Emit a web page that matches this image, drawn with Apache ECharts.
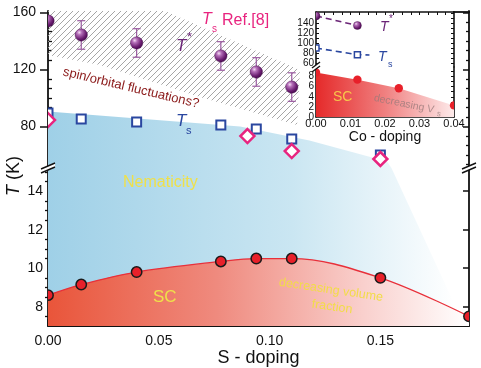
<!DOCTYPE html>
<html><head><meta charset="utf-8">
<script src="https://cdn.jsdelivr.net/npm/echarts@6/dist/echarts.min.js"></script>
<style>html,body{margin:0;padding:0;background:#fff}#c{width:481px;height:368px}</style>
</head><body><div id="c"></div>
<script>
// ---------- main plot data ----------
const tStarX = [0, 0.015, 0.04, 0.078, 0.094, 0.11];
const tStarY = [154, 144.2, 138.6, 129.5, 118.3, 107.7];
const tStarErr = [0, 10, 10, 10, 10, 10];
const tsX = [0, 0.015, 0.04, 0.078, 0.094, 0.11, 0.15];
const tsY = [89.5, 85.3, 83.2, 81.1, 78.3, 71.3, 60.1];
const tsRefX = [0, 0.09, 0.11, 0.15];
const tsRefY = [84.6, 73.4, 62.9, 57.3];
const scX = [0, 0.015, 0.04, 0.078, 0.094, 0.11, 0.15, 0.19];
const scY = [8.6, 9.15, 9.8, 10.35, 10.5, 10.5, 9.5, 7.5];
// shaded regions (x, T)
const nemUpper = [[0, 90.5], [0.0867, 80], [0.118, 70.3], [0.153, 55.6], [0.155, 51], [0, 51]];
const nemLower = [[0, 15.2], [0.155, 15.2], [0.188, 7], [0, 7]];
const hatchPoly = [[0, 161], [0.0528, 161], [0.1137, 119.7], [0.1124, 81.1], [0.0686, 100.7], [0.0235, 123.2], [0, 130.2]];
// tick labels
const xTicks = [0, 0.05, 0.10, 0.15];
const yTicksUpper = [80, 120, 160];
const yTicksLower = [8, 10, 12, 14];
// ---------- inset data ----------
const inTStarX = [0, 0.012];
const inTStarY = [154, 135];
const inTsX = [0, 0.012];
const inTsY = [90, 76.6];
const inTsLineX = [0, 0.012, 0.0155];
const inTsLineY = [90, 76.6, 76];
const inScX = [0, 0.012, 0.024, 0.04];
const inScY = [8.8, 7.4, 5.7, 2.3];
const inXTicks = [0, 0.01, 0.02, 0.03, 0.04];
const inYTicksUpper = [60, 80, 100, 120, 140];
const inYTicksLower = [0, 2, 4, 6, 8];

const FONT = 'Liberation Sans, Arial, sans-serif';
const K = '#111';
const PURPLE = '#6b2577', BLUE = '#2a47a0', PINK = '#e8247f', YELLOW = '#efe04a';

// minor tick positions
const xMinor = []; for (let i = 1; i * 0.05 / 6 <= 0.19; i++) if (i % 6) xMinor.push(i * 0.05 / 6);
const upMinor = []; for (let k = 1; 160 - k * 40 / 6 >= 51; k++) if (k % 6) upMinor.push(160 - k * 40 / 6);
const loMinor = []; for (let v = 7.5; v <= 15.01; v += 0.5) if (v % 2) loMinor.push(v);
const inXMinor = []; for (let i = 1; i < 16; i++) inXMinor.push(i * 0.0025);
const inUpMinor = []; for (let v = 60; v <= 160; v += 10) inUpMinor.push(v);
const inLoMinor = []; for (let v = 1; v <= 9; v++) inLoMinor.push(v);

function axis(o) {
  return Object.assign({
    type: 'value', splitLine: {show: false},
    axisLine: {show: false, lineStyle: {color: K, width: 1.8}},
    axisTick: {show: false}, axisLabel: {show: false}
  }, o);
}
function ticks(vals, len, inside, w) {
  return {show: true, inside: inside, length: len, customValues: vals, lineStyle: {color: K, width: w || 1.3}};
}
function labels(vals, size, margin, fmt) {
  return {show: true, customValues: vals, fontSize: size, margin: margin, color: K, fontFamily: FONT, formatter: fmt};
}
const line = w => ({show: true, onZero: false, lineStyle: {color: K, width: w}});

const xAxis = [
  axis({gridIndex: 0, min: 0, max: 0.19, show: false}),
  axis({gridIndex: 1, min: 0, max: 0.19, position: 'bottom', axisLine: line(1.8), axisTick: ticks(xTicks, 7, true, 1.5),
        axisLabel: labels(xTicks, 14, 8, v => v.toFixed(2)),
        name: 'S - doping', nameLocation: 'middle', nameGap: 20, nameTextStyle: {fontSize: 18, color: K, fontFamily: FONT}}),
  axis({gridIndex: 1, min: 0, max: 0.19, position: 'bottom', axisTick: ticks(xMinor, 4, true)}),
  axis({gridIndex: 2, min: 0, max: 0.04, position: 'top', axisLine: line(1.6), axisTick: ticks(inXMinor, 3, true, 1)}),
  axis({gridIndex: 3, min: 0, max: 0.04, position: 'bottom', axisLine: line(1.6), axisTick: ticks(inXMinor, 3, true, 1),
        axisLabel: labels(inXTicks, 11, 1, v => v.toFixed(2)),
        name: 'Co - doping', nameLocation: 'middle', nameGap: 13, nameTextStyle: {fontSize: 14, color: K, fontFamily: FONT}})
];
const yAxis = [
  axis({gridIndex: 0, min: 51, max: 161, position: 'left', axisLine: line(1.8), axisTick: ticks(yTicksUpper, 8, false, 1.5), axisLabel: labels(yTicksUpper, 14, 12)}),
  axis({gridIndex: 0, min: 51, max: 161, position: 'left', axisTick: ticks(upMinor, 4, true)}),
  axis({gridIndex: 0, min: 51, max: 161, position: 'right', axisLine: line(1.8), axisTick: ticks(yTicksUpper, 6, true, 1.5)}),
  axis({gridIndex: 0, min: 51, max: 161, position: 'right', axisTick: ticks(upMinor, 3, true)}),
  axis({gridIndex: 1, min: 7, max: 15.2, position: 'left', axisLine: line(1.8), axisTick: ticks(yTicksLower, 6, true, 1.5), axisLabel: labels(yTicksLower, 14, 5)}),
  axis({gridIndex: 1, min: 7, max: 15.2, position: 'left', axisTick: ticks(loMinor, 4, true)}),
  axis({gridIndex: 1, min: 7, max: 15.2, position: 'right', axisLine: line(1.8), axisTick: ticks(yTicksLower, 6, true, 1.5)}),
  axis({gridIndex: 1, min: 7, max: 15.2, position: 'right', axisTick: ticks(loMinor, 3, true)}),
  axis({gridIndex: 2, min: 52, max: 162, position: 'left', axisLine: line(1.6), axisTick: ticks(inUpMinor, 3, true, 1), axisLabel: labels(inYTicksUpper, 10, 2)}),
  axis({gridIndex: 2, min: 52, max: 162, position: 'right', axisLine: line(1.6), axisTick: ticks(inUpMinor, 3, true, 1)}),
  axis({gridIndex: 3, min: 0, max: 9.9, position: 'left', axisLine: line(1.6), axisTick: ticks(inLoMinor, 3, true, 1), axisLabel: labels(inYTicksLower, 10, 2)}),
  axis({gridIndex: 3, min: 0, max: 9.9, position: 'right', axisLine: line(1.6), axisTick: ticks(inLoMinor, 3, true, 1)})
];

// hatch pattern
const hatchCanvas = document.createElement('canvas');
hatchCanvas.width = 6; hatchCanvas.height = 6;
const hc = hatchCanvas.getContext('2d');
hc.strokeStyle = '#9c9c9c'; hc.lineWidth = 0.9;
hc.beginPath(); hc.moveTo(0, 6); hc.lineTo(6, 0); hc.moveTo(-1, 1); hc.lineTo(1, -1); hc.moveTo(5, 7); hc.lineTo(7, 5); hc.stroke();

const G = echarts.graphic;
const nemFill = new G.LinearGradient(48, 0, 455, 0, [
  {offset: 0, color: '#9fd0e7'}, {offset: 0.6, color: '#cae6f2'}, {offset: 1, color: '#ffffff'}], true);

function polySeries(poly, xi, yi, fill, z) {
  return {type: 'custom', xAxisIndex: xi, yAxisIndex: yi, clip: true, z: z, silent: true,
    data: poly, encode: {x: 0, y: 1},
    renderItem: (p, api) => p.dataIndex !== 0 ? null :
      {type: 'polygon', shape: {points: poly.map(q => api.coord(q))}, style: {fill: fill}}};
}
function markSeries(xs, ys, xi, yi, shapeFn, z) {
  return {type: 'custom', xAxisIndex: xi, yAxisIndex: yi, clip: true, z: z || 5, silent: true,
    data: xs.map((x, i) => [x, ys[i]]), encode: {x: 0, y: 1},
    renderItem: (p, api) => shapeFn(api.coord([api.value(0), api.value(1)]))};
}
const sphere = r => c => ({type: 'circle', shape: {cx: c[0], cy: c[1], r: r},
  style: {fill: new G.RadialGradient(0.35, 0.3, 0.75, [
    {offset: 0, color: '#f5dcf5'}, {offset: 0.25, color: '#b46fb8'}, {offset: 0.7, color: '#6a1d70'}, {offset: 1, color: '#43084a'}]),
    stroke: '#3d0a42', lineWidth: 0.4}});
const redDot = (r, border) => c => ({type: 'circle', shape: {cx: c[0], cy: c[1], r: r},
  style: {fill: '#e8202a', stroke: border ? '#1a1a1a' : null, lineWidth: border ? 1.5 : 0}});
const square = (h, w) => c => ({type: 'rect', shape: {x: c[0] - h, y: c[1] - h, width: 2 * h, height: 2 * h},
  style: {fill: '#fff', stroke: BLUE, lineWidth: w}});
const diamond = h => c => ({type: 'polygon', shape: {points: [[c[0], c[1] - h], [c[0] + h, c[1]], [c[0], c[1] + h], [c[0] - h, c[1]]]},
  style: {fill: '#fff', stroke: PINK, lineWidth: 2.5}});

const series = [
  polySeries(nemUpper, 0, 0, nemFill, 1),
  polySeries(nemLower, 1, 4, nemFill, 1),
  polySeries(hatchPoly, 0, 0, {image: hatchCanvas, repeat: 'repeat'}, 1),
  {type: 'line', xAxisIndex: 1, yAxisIndex: 4, smooth: 0.35, symbol: 'none', z: 2, silent: true,
   data: scX.map((x, i) => [x, scY[i]]),
   lineStyle: {color: '#e8303a', width: 1.3},
   areaStyle: {origin: 'start', opacity: 1, color: new G.LinearGradient(0, 0, 1, 0, [
     {offset: 0, color: '#e9553a'}, {offset: 0.4, color: '#ef8a7e'}, {offset: 0.75, color: '#f9d0cd'}, {offset: 1, color: '#ffffff'}])}},
  // error bars
  {type: 'custom', xAxisIndex: 0, yAxisIndex: 0, clip: true, z: 4, silent: true,
   data: tStarX.map((x, i) => [x, tStarY[i], tStarErr[i]]), encode: {x: 0, y: 1},
   renderItem: (p, api) => {
     const e = api.value(2); if (!e) return null;
     const a = api.coord([api.value(0), api.value(1) + e]), b = api.coord([api.value(0), api.value(1) - e]);
     const st = {stroke: '#9a5aa0', lineWidth: 1.2};
     return {type: 'group', children: [
       {type: 'line', shape: {x1: a[0], y1: a[1], x2: b[0], y2: b[1]}, style: st},
       {type: 'line', shape: {x1: a[0] - 4, y1: a[1], x2: a[0] + 4, y2: a[1]}, style: st},
       {type: 'line', shape: {x1: b[0] - 4, y1: b[1], x2: b[0] + 4, y2: b[1]}, style: st}]};
   }},
  markSeries(tStarX, tStarY, 0, 0, sphere(6.2)),
  markSeries(tsX, tsY, 0, 0, square(4.5, 2)),
  markSeries(tsRefX, tsRefY, 0, 0, diamond(7), 6),
  markSeries(scX, scY, 1, 4, redDot(5.2, true)),
  // inset
  {type: 'line', xAxisIndex: 3, yAxisIndex: 8, symbol: 'none', silent: true, z: 3,
   data: inTStarX.map((x, i) => [x, inTStarY[i]]), lineStyle: {color: PURPLE, width: 1.6, type: [6, 4]}},
  {type: 'line', xAxisIndex: 3, yAxisIndex: 8, symbol: 'none', silent: true, z: 3,
   data: inTsLineX.map((x, i) => [x, inTsLineY[i]]), lineStyle: {color: BLUE, width: 1.6, type: [6, 4]}},
  markSeries(inTStarX, inTStarY, 3, 8, sphere(4)),
  markSeries(inTsX, inTsY, 3, 8, square(3, 1.5)),
  {type: 'line', xAxisIndex: 4, yAxisIndex: 10, symbol: 'none', silent: true, z: 2,
   data: inScX.map((x, i) => [x, inScY[i]]), lineStyle: {width: 0},
   areaStyle: {origin: 'start', opacity: 1, color: new G.LinearGradient(0, 0, 1, 0, [
     {offset: 0, color: '#e52a2a'}, {offset: 0.5, color: '#f08080'}, {offset: 1, color: '#fdeaea'}])}},
  markSeries(inScX, inScY, 4, 10, redDot(4.2, false))
];

function txt(x, y, text, size, color, extra) {
  return {type: 'text', x: x, y: y, z: 50, silent: true,
    style: Object.assign({text: text, fontSize: size, fontFamily: FONT, fill: color, verticalAlign: 'middle', align: 'left'}, extra || {})};
}
function rtxt(x, y, text, size, color, rot, extra) {
  const t = txt(x, y, text, size, color, Object.assign({align: 'center'}, extra || {}));
  t.rotation = rot; return t;
}
function brk(cx, cy, dx) {
  const st = {stroke: K, lineWidth: 1.4};
  return [
    {type: 'polygon', z: 60, shape: {points: [[cx - dx, cy + 1], [cx + dx, cy - 5], [cx + dx, cy - 1], [cx - dx, cy + 5]]}, style: {fill: '#fff'}},
    {type: 'line', z: 61, shape: {x1: cx - dx, y1: cy + 1, x2: cx + dx, y2: cy - 5}, style: st},
    {type: 'line', z: 61, shape: {x1: cx - dx, y1: cy + 5, x2: cx + dx, y2: cy - 1}, style: st}
  ];
}

const graphic = [
  // main labels
  txt(176, 46, 'T', 17, PURPLE, {fontStyle: 'italic'}),
  txt(187, 37, '*', 13, PURPLE),
  txt(176, 121, 'T', 17, BLUE, {fontStyle: 'italic'}),
  txt(186, 131, 's', 11, BLUE),
  txt(202, 20, 'T', 16, PINK, {fontStyle: 'italic'}),
  txt(212, 29, 's', 10, PINK),
  txt(222, 21, 'Ref.[8]', 16, PINK),
  rtxt(131, 88, 'spin/orbital fluctuations?', 13, '#8b1a1a', -0.235),
  txt(123, 183, 'Nematicity', 16, YELLOW),
  txt(153, 297, 'SC', 17, YELLOW),
  rtxt(331, 290, 'decreasing volume', 12.5, '#f2dc48', -0.145),
  rtxt(332, 307, 'fraction', 12.5, '#f2dc48', -0.145),
  {type: 'text', x: 14, y: 176, rotation: Math.PI / 2, z: 50, silent: true,
   style: {text: '{i|T} (K)', fontSize: 18, fontFamily: FONT, fill: K, align: 'center', verticalAlign: 'middle',
           rich: {i: {fontStyle: 'italic', fontSize: 18, fontFamily: FONT}}}},
  // inset labels
  txt(380, 27, 'T', 14, PURPLE, {fontStyle: 'italic'}),
  txt(389, 19, '*', 10, PURPLE),
  txt(378, 57, 'T', 14, BLUE, {fontStyle: 'italic'}),
  txt(388, 65, 's', 9, BLUE),
  txt(333, 97, 'SC', 14, '#f7c64a'),
  rtxt(404, 104, 'decreasing V', 10.5, 'rgba(150,120,120,0.75)', -0.2),
  rtxt(439, 114, 's', 8, 'rgba(150,120,120,0.75)', -0.2),
  // main top border segment beyond inset
  {type: 'line', z: 40, shape: {x1: 453, y1: 12, x2: 470, y2: 12}, style: {stroke: K, lineWidth: 1.8}},
  ...brk(48, 168, 7),
  ...brk(469, 168, 7),
  ...brk(316, 67, 4)
];

const chart = echarts.init(document.getElementById('c'), null, {renderer: 'canvas', width: 481, height: 368});
chart.setOption({
  animation: false,
  backgroundColor: '#fff',
  textStyle: {fontFamily: FONT},
  grid: [
    {left: 48, top: 11, width: 421, height: 157},
    {left: 48, top: 168, width: 421, height: 158},
    {left: 316, top: 12, width: 138, height: 55, show: true, backgroundColor: '#fff', borderWidth: 0},
    {left: 316, top: 67, width: 138, height: 50, show: true, backgroundColor: '#fff', borderWidth: 0}
  ],
  xAxis: xAxis,
  yAxis: yAxis,
  series: series,
  graphic: graphic
});
</script></body></html>
